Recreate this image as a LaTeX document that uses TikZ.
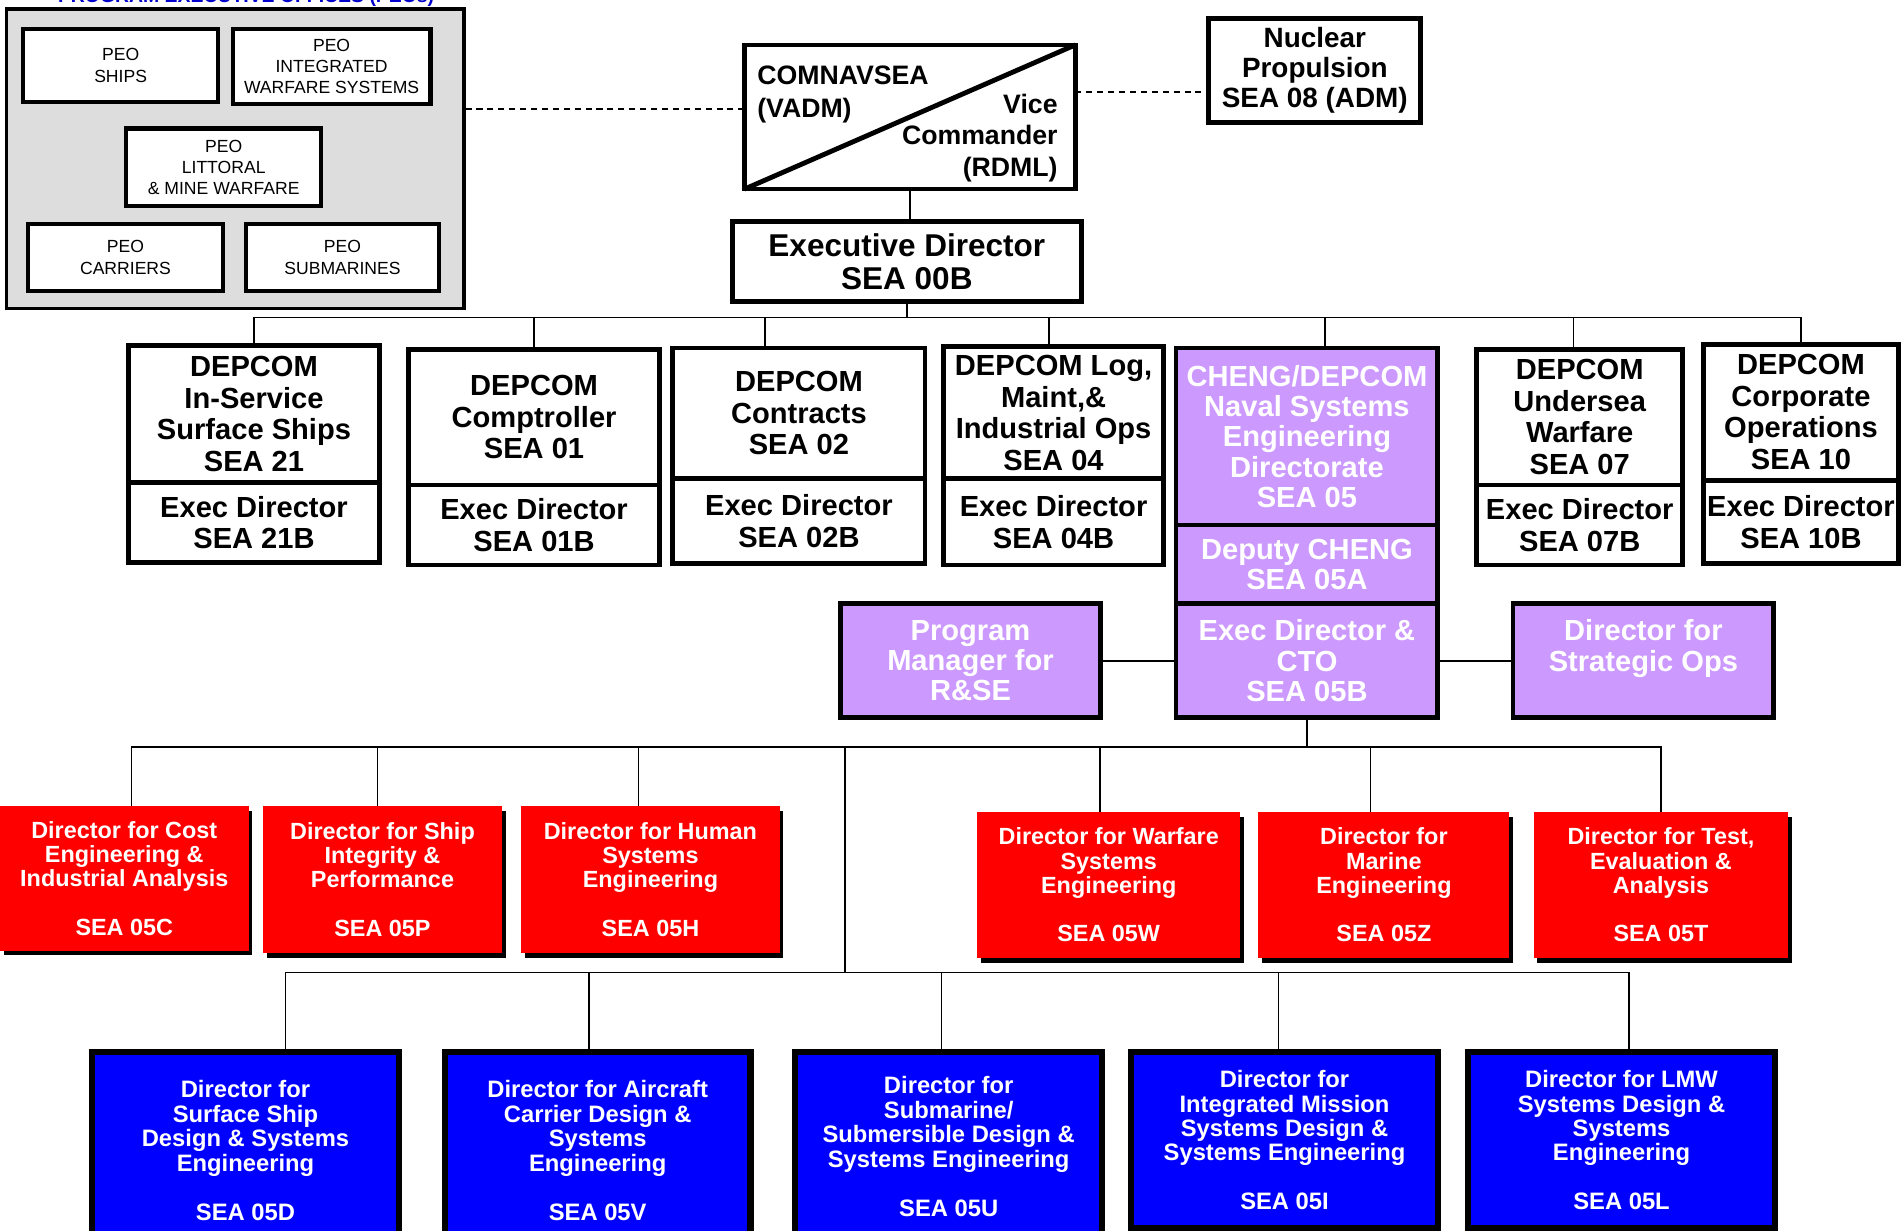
\documentclass[tikz,border=0pt]{standalone}
\usepackage{fontspec}
\setmainfont{Liberation Sans}
\usepackage{tikz}
\usetikzlibrary{positioning,shadows}

\definecolor{peogray}{RGB}{221,221,221}
\definecolor{chengpurple}{RGB}{204,153,255}
\definecolor{seared}{RGB}{255,0,0}
\definecolor{seablue}{RGB}{0,0,255}
\definecolor{titleblue}{RGB}{0,0,204}

\begin{document}
\begin{tikzpicture}[x=1pt,y=-1pt,line width=1.3pt,node distance=0pt,
                    every node/.style={inner sep=1pt,align=center}]
  \tikzstyle{box}=[draw,line width=4pt,outer sep=0pt,fill=white,anchor=north west]
  \tikzstyle{depbox}=[box,font=\fontsize{24}{26}\selectfont\bfseries]
  \tikzstyle{peobox}=[box,line width=3.5pt,font=\fontsize{14.5}{18}\selectfont]
  \tikzstyle{pbox}=[box,fill=chengpurple,text=white,font=\fontsize{24}{25}\selectfont\bfseries]
  \tikzstyle{rbox}=[anchor=north west,outer sep=0pt,fill=seared,text=white,
                    font=\fontsize{19.3}{20}\selectfont\bfseries,
                    drop shadow={shadow xshift=3pt,shadow yshift=-4pt,fill=black,opacity=1}]
  \tikzstyle{bbox}=[box,line width=5pt,fill=seablue,text=white,font=\fontsize{19.6}{20.2}\selectfont\bfseries]

  \useasboundingbox (0,0) rectangle (1568,1015);

  \node[text=titleblue,font=\fontsize{16}{18}\selectfont\bfseries,anchor=base]
    (peotitle) at (203,2) {PROGRAM EXECUTIVE OFFICES (PEOs)};
  \node[draw,line width=3pt,fill=peogray,anchor=north west,minimum width=377pt,
        minimum height=247pt] (peoarea) at (4,6) {};
  \node[peobox,minimum width=161pt,minimum height=60pt] (peoships) at (19,24) {PEO\\SHIPS};
  \node[peobox,minimum width=163pt,minimum height=62pt,font=\fontsize{14.5}{17.5}\selectfont]
    (peoiws) at (192,24) {PEO\\INTEGRATED\\WARFARE SYSTEMS};
  \node[peobox,minimum width=161pt,minimum height=64pt,font=\fontsize{14.5}{17.5}\selectfont]
    (peolmw) at (104,106) {PEO\\LITTORAL\\\& MINE WARFARE};
  \node[peobox,minimum width=161pt,minimum height=55pt] (peocar) at (23,185) {PEO\\CARRIERS};
  \node[peobox,minimum width=159pt,minimum height=55pt] (peosub) at (203,185) {PEO\\SUBMARINES};

  \node[box,line width=3.5pt,minimum width=273pt,minimum height=119pt] (comnav) at (614,37) {};
  \draw[line width=4pt] (comnav.south west) -- (comnav.north east);
  \node[anchor=north west,inner sep=0pt,align=left,font=\fontsize{22}{27}\selectfont\bfseries]
    (comnavtxt) at (624,54) {COMNAVSEA\\(VADM)};
  \node[anchor=north east,inner sep=0pt,align=right,font=\fontsize{22}{26}\selectfont\bfseries]
    (vicetxt) at (873,77) {Vice\\Commander\\(RDML)};

  \node[box,minimum width=175pt,minimum height=86pt,font=\fontsize{23}{25}\selectfont\bfseries]
    (nuc) at (997,15) {Nuclear\\Propulsion\\SEA 08 (ADM)};
  \node[box,minimum width=288pt,minimum height=66pt,font=\fontsize{26}{27}\selectfont\bfseries]
    (exec) at (604,183) {Executive Director\\SEA 00B};

  \draw[dash pattern=on 5pt off 4pt] (comnav.west |- 0,90) -- (peoarea.east |- 0,90);
  \draw[dash pattern=on 5pt off 4pt] (comnav.east |- 0,76) -- (nuc.west |- 0,76);
  \draw (comnav.south) -- (comnav.south |- exec.north);

  \node[depbox,minimum width=207pt,minimum height=113pt] (dep21) at (106,285)
    {DEPCOM\\In-Service\\Surface Ships\\SEA 21};
  \node[depbox,minimum width=207pt,minimum height=66pt,below=of dep21] (dep21b)
    {Exec Director\\SEA 21B};
  \node[depbox,minimum width=207pt,minimum height=112pt] (dep01) at (337,288)
    {DEPCOM\\Comptroller\\SEA 01};
  \node[depbox,minimum width=207pt,minimum height=66pt,below=of dep01] (dep01b)
    {Exec Director\\SEA 01B};
  \node[depbox,minimum width=208pt,minimum height=108pt] (dep02) at (555,287)
    {DEPCOM\\Contracts\\SEA 02};
  \node[depbox,minimum width=208pt,minimum height=70pt,below=of dep02] (dep02b)
    {Exec Director\\SEA 02B};
  \node[depbox,minimum width=182pt,minimum height=109pt] (dep04) at (778,286)
    {DEPCOM Log,\\Maint,\&\\Industrial Ops\\SEA 04};
  \node[depbox,minimum width=182pt,minimum height=71pt,below=of dep04] (dep04b)
    {Exec Director\\SEA 04B};
  \node[depbox,minimum width=170pt,minimum height=112pt] (dep07) at (1218,288)
    {DEPCOM\\Undersea\\Warfare\\SEA 07};
  \node[depbox,minimum width=170pt,minimum height=66pt,below=of dep07] (dep07b)
    {Exec Director\\SEA 07B};
  \node[depbox,minimum width=161pt,minimum height=112pt] (dep10) at (1405,284)
    {DEPCOM\\Corporate\\Operations\\SEA 10};
  \node[depbox,minimum width=161pt,minimum height=69pt,below=of dep10] (dep10b)
    {Exec Director\\SEA 10B};

  \node[pbox,minimum width=216pt,minimum height=146pt] (cheng) at (970,287)
    {CHENG/DEPCOM\\Naval Systems\\Engineering\\Directorate\\SEA 05};
  \node[pbox,minimum width=216pt,minimum height=65pt,below=of cheng] (deputy)
    {Deputy CHENG\\SEA 05A};
  \node[pbox,minimum width=216pt,minimum height=94pt,below=of deputy] (cto)
    {Exec Director \&\\CTO\\SEA 05B};
  \node[pbox,minimum width=215pt,minimum height=94pt] (pm) at (693,498)
    {Program\\Manager for\\R\&SE};
  \node[pbox,minimum width=215pt,minimum height=94pt] (strat) at (1248,498)
    {Director for\\Strategic Ops\\~};
  \draw (pm) -- (cto);
  \draw (cto) -- (strat);

  \coordinate (topbus) at (exec.south |- 0,262);
  \draw (exec) -- (topbus);
  \draw (topbus) -| (dep21);
  \draw (topbus) -| (dep01);
  \draw (topbus) -| ([xshift=-28pt]dep02.north);
  \draw (topbus) -| ([xshift=-4pt]dep04.north);
  \draw (topbus) -| ([xshift=15pt]cheng.north);
  \draw (topbus) -| ([xshift=-5pt]dep07.north);
  \draw (topbus) -| (dep10);

  \node[rbox,minimum width=205pt,minimum height=119pt] (r05c) at (0,665)
    {Director for Cost\\Engineering \&\\Industrial Analysis\\~\\SEA 05C};
  \node[rbox,minimum width=197pt,minimum height=121pt] (r05p) at (217,665)
    {Director for Ship\\Integrity \&\\Performance\\~\\SEA 05P};
  \node[rbox,minimum width=213pt,minimum height=121pt] (r05h) at (430,665)
    {Director for Human\\Systems\\Engineering\\~\\SEA 05H};
  \node[rbox,minimum width=217pt,minimum height=120pt] (r05w) at (806,670)
    {Director for Warfare\\Systems\\Engineering\\~\\SEA 05W};
  \node[rbox,minimum width=207pt,minimum height=120pt] (r05z) at (1038,670)
    {Director for\\Marine\\Engineering\\~\\SEA 05Z};
  \node[rbox,minimum width=210pt,minimum height=120pt] (r05t) at (1265,670)
    {Director for Test,\\Evaluation \&\\Analysis\\~\\SEA 05T};

  \coordinate (redbus) at (cto.south |- 0,616);
  \draw (cto) -- (redbus);
  \draw (redbus) -| ([xshift=6pt]r05c.north);
  \draw (redbus) -| ([xshift=-4pt]r05p.north);
  \draw (redbus) -| ([xshift=-10pt]r05h.north);
  \draw (redbus) -| ([xshift=-7pt]r05w.north);
  \draw (redbus) -| ([xshift=-11pt]r05z.north);
  \draw (redbus) -| (r05t);

  \node[bbox,minimum width=253pt,minimum height=162pt] (b05d) at (76,868)
    {Director for\\Surface Ship\\Design \& Systems\\Engineering\\~\\SEA 05D};
  \node[bbox,minimum width=252pt,minimum height=162pt] (b05v) at (367,868)
    {Director for Aircraft\\Carrier Design \&\\Systems\\Engineering\\~\\SEA 05V};
  \node[bbox,minimum width=253pt,minimum height=155pt] (b05u) at (656,868)
    {Director for\\Submarine/\\Submersible Design \&\\Systems Engineering\\~\\SEA 05U};
  \node[bbox,minimum width=253pt,minimum height=145pt] (b05i) at (933,868)
    {Director for\\Integrated Mission\\Systems Design \&\\Systems Engineering\\~\\SEA 05I};
  \node[bbox,minimum width=253pt,minimum height=145pt] (b05l) at (1211,868)
    {Director for LMW\\Systems Design \&\\Systems\\Engineering\\~\\SEA 05L};

  \coordinate (bluetap) at (697,616);
  \coordinate (bluebus) at (697,802);
  \draw (bluetap) -- (bluebus);
  \draw (bluebus) -| ([xshift=33pt]b05d.north);
  \draw (bluebus) -| ([xshift=-7pt]b05v.north);
  \draw (bluebus) -| ([xshift=-6pt]b05u.north);
  \draw (bluebus) -| ([xshift=-5pt]b05i.north);
  \draw (bluebus) -| ([xshift=6pt]b05l.north);
\end{tikzpicture}
\end{document}
